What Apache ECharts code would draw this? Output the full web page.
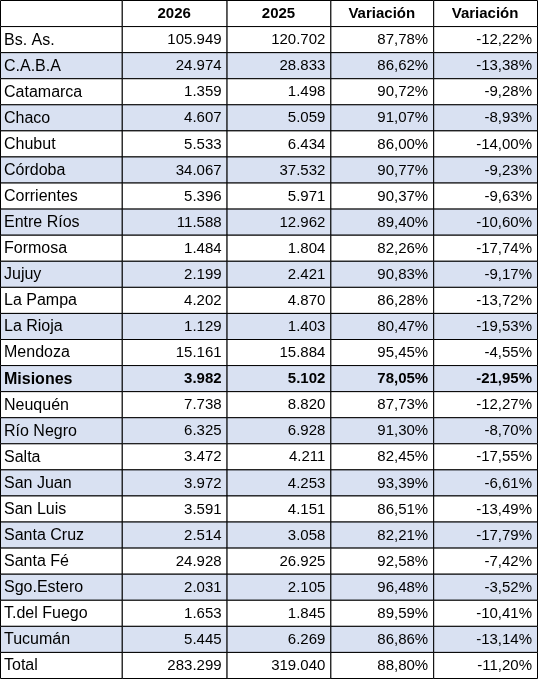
<!DOCTYPE html>
<html><head><meta charset="utf-8">
<script src="https://cdn.jsdelivr.net/npm/echarts@6/dist/echarts.min.js"></script>
<style>html,body{margin:0;padding:0;background:#fff}#c{width:538px;height:679px}</style>
</head><body><div id="c"></div>
<script>
const headers = ["", "2026", "2025", "Variación", "Variación"];
const provinces = ["Bs. As.","C.A.B.A","Catamarca","Chaco","Chubut","Córdoba","Corrientes","Entre Ríos","Formosa","Jujuy","La Pampa","La Rioja","Mendoza","Misiones","Neuquén","Río Negro","Salta","San Juan","San Luis","Santa Cruz","Santa Fé","Sgo.Estero","T.del Fuego","Tucumán","Total"];
const v2026 = ["105.949","24.974","1.359","4.607","5.533","34.067","5.396","11.588","1.484","2.199","4.202","1.129","15.161","3.982","7.738","6.325","3.472","3.972","3.591","2.514","24.928","2.031","1.653","5.445","283.299"];
const v2025 = ["120.702","28.833","1.498","5.059","6.434","37.532","5.971","12.962","1.804","2.421","4.870","1.403","15.884","5.102","8.820","6.928","4.211","4.253","4.151","3.058","26.925","2.105","1.845","6.269","319.040"];
const ratio = ["87,78%","86,62%","90,72%","91,07%","86,00%","90,77%","90,37%","89,40%","82,26%","90,83%","86,28%","80,47%","95,45%","78,05%","87,73%","91,30%","82,45%","93,39%","86,51%","82,21%","92,58%","96,48%","89,59%","86,86%","88,80%"];
const change = ["-12,22%","-13,38%","-9,28%","-8,93%","-14,00%","-9,23%","-9,63%","-10,60%","-17,74%","-9,17%","-13,72%","-19,53%","-4,55%","-21,95%","-12,27%","-8,70%","-17,55%","-6,61%","-13,49%","-17,79%","-7,42%","-3,52%","-10,41%","-13,14%","-11,20%"];
const colWidths = [122, 105, 104, 103, 104];
const boldRow = "Misiones";

const edges = [0]; colWidths.forEach(w => edges.push(edges[edges.length-1] + w));
const cols = [provinces, v2026, v2025, ratio, change];
const nRows = provinces.length + 1;
const data = [];
for (let r = 0; r < nRows; r++) for (let c = 0; c < 5; c++) {
  const txt = r === 0 ? headers[c] : cols[c][r-1];
  data.push({value: [c, r], txt});
}
const chart = echarts.init(document.getElementById('c'), null, {renderer:'canvas'});
chart.setOption({
  animation:false,
  grid:{left:0,right:1,top:0,bottom:1},
  xAxis:{type:'value',min:0,max:edges[5],show:false},
  yAxis:{type:'value',min:0,max:nRows,inverse:true,show:false},
  series:[{type:'custom',data,renderItem(params, api){
    const c = api.value(0), r = api.value(1);
    const p0 = api.coord([edges[c], r]), p1 = api.coord([edges[c+1], r+1]);
    const x = p0[0], y = p0[1], w = p1[0]-p0[0], h = p1[1]-p0[1];
    const d = data[params.dataIndex];
    const shaded = r > 0 && r % 2 === 0;
    const bold = r === 0 || (r > 0 && provinces[r-1] === boldRow);
    let tx, align;
    if (r === 0) { tx = x + w/2; align = 'center'; }
    else if (c === 0) { tx = x + 4; align = 'left'; }
    else { tx = x + w - 5; align = 'right'; }
    return {type:'group',children:[
      {type:'rect',shape:{x:x+0.5,y:y+0.5,width:w,height:h},style:{fill:shaded?'#D9E1F2':'#fff',stroke:'#000',lineWidth:1}},
      {type:'text',style:{x:tx,y:y+h/2+1,text:d.txt,align,verticalAlign:'middle',fill:'#000',
        font:(bold?'bold ':'')+(c===0&&r>0?'16px':'15px')+' "Liberation Sans", Arial, sans-serif'}}
    ]};
  }}]
});
</script></body></html>
